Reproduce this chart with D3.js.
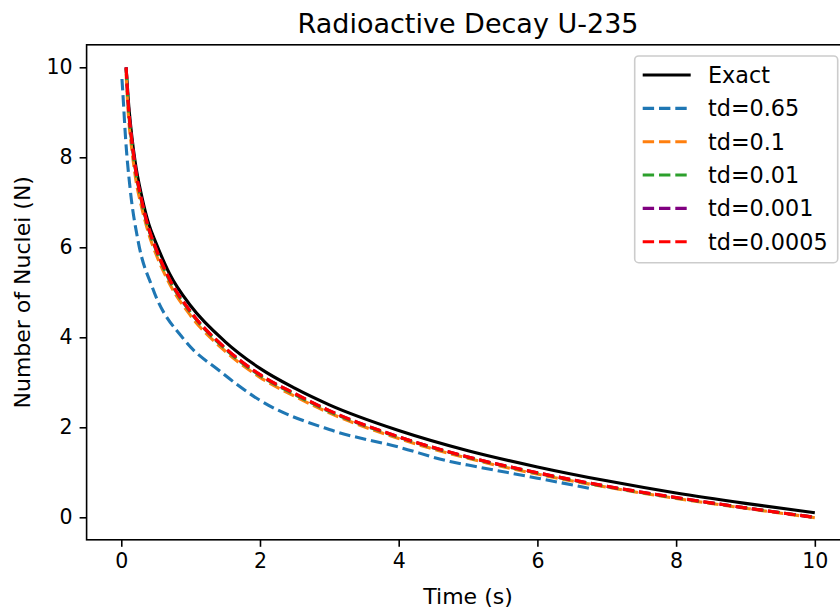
<!DOCTYPE html>
<html>
<head>
<meta charset="utf-8">
<script src="https://cdn.jsdelivr.net/npm/d3@7"></script>
<style>
  body { margin: 0; background: #fff; }
  svg { display: block; font-family: "DejaVu Sans", sans-serif; }
</style>
</head>
<body>
<svg id="chart" width="840" height="610"></svg>
<script>
// ---------- data ----------
const timeGrid = [0.07, 0.1, 0.15, 0.2, 0.3, 0.4, 0.5, 0.7, 1, 1.5, 2, 2.5, 3, 4, 5, 6, 7, 8, 9, 10];
const exactN   = [10.0, 9.3, 8.5, 7.9, 7.1, 6.5, 6.1, 5.4, 4.7, 3.9, 3.31, 2.87, 2.5, 1.93, 1.48, 1.12, 0.81, 0.54, 0.31, 0.10];
const td01N    = [9.85, 9.0, 8.2, 7.6, 6.85, 6.28, 5.85, 5.18, 4.48, 3.69, 3.11, 2.69, 2.32, 1.75, 1.31, 0.96, 0.67, 0.42, 0.20, -0.01];
const td001N   = [9.97, 9.15, 8.35, 7.76, 6.97, 6.37, 5.94, 5.25, 4.55, 3.74, 3.15, 2.73, 2.35, 1.78, 1.33, 0.98, 0.68, 0.43, 0.21, 0.0];
const td0001N  = [10.0, 9.2, 8.4, 7.8, 7.0, 6.4, 5.97, 5.28, 4.57, 3.76, 3.17, 2.75, 2.37, 1.79, 1.34, 0.99, 0.69, 0.44, 0.21, 0.0];
const td00005N = [10.0, 9.2, 8.4, 7.8, 7.0, 6.4, 5.97, 5.28, 4.57, 3.76, 3.17, 2.75, 2.37, 1.79, 1.34, 0.99, 0.69, 0.44, 0.21, 0.0];
const td065Time = [0.01, 0.02, 0.063, 0.13, 0.24, 0.45, 0.91, 1.42, 2.0, 3.0, 4.0, 4.74, 5.0, 6.0, 6.76];
const td065N    = [9.74, 9.5, 8.4, 7.27, 6.16, 5.1, 3.94, 3.25, 2.6, 1.95, 1.56, 1.24, 1.16, 0.87, 0.64];

const seriesNames  = ["Exact", "td=0.65", "td=0.1", "td=0.01", "td=0.001", "td=0.0005"];
const seriesColors = ["#000000", "#1f77b4", "#ff7f0e", "#2ca02c", "#800080", "#ff0000"];
const xTicks = [0, 2, 4, 6, 8, 10];
const yTicks = [0, 2, 4, 6, 8, 10];
const titleText = "Radioactive Decay U-235";
const xLabel = "Time (s)";
const yLabel = "Number of Nuclei (N)";

// ---------- layout ----------
const L = 86.6, R = 849.5, T = 44.8, B = 539.8;
const svg = d3.select("#chart");
const x = d3.scaleLinear().domain([-0.5, 10.5]).range([L, R]);
const y = d3.scaleLinear().domain([-0.5, 10.5]).range([B, T]);

svg.append("defs").append("clipPath").attr("id", "clip")
  .append("rect").attr("x", L).attr("y", T).attr("width", R - L).attr("height", B - T);

const mk = (ts, ns) => ts.map((t, i) => [t, ns[i]]);
const series = [
  { data: mk(timeGrid, exactN), dashed: false },
  { data: mk(td065Time, td065N), dashed: true },
  { data: mk(timeGrid, td01N), dashed: true },
  { data: mk(timeGrid, td001N), dashed: true },
  { data: mk(timeGrid, td0001N), dashed: true },
  { data: mk(timeGrid, td00005N), dashed: true }
];

const line = d3.line().x(d => x(d[0])).y(d => y(d[1])).curve(d3.curveMonotoneX);
const gLines = svg.append("g").attr("clip-path", "url(#clip)");
series.forEach((s, i) => {
  gLines.append("path")
    .datum(s.data)
    .attr("fill", "none")
    .attr("stroke", seriesColors[i])
    .attr("stroke-width", 3.1)
    .attr("stroke-dasharray", s.dashed ? "11.4,4.9" : null)
    .attr("d", line);
});

// ---------- axes ----------
const fontTick = 20.5;
const xAxis = d3.axisBottom(x).tickValues(xTicks).tickSize(7).tickPadding(7).tickSizeOuter(0);
const yAxis = d3.axisLeft(y).tickValues(yTicks).tickSize(7).tickPadding(7).tickSizeOuter(0);
const gx = svg.append("g").attr("transform", `translate(0,${B})`).call(xAxis);
const gy = svg.append("g").attr("transform", `translate(${L},0)`).call(yAxis);
[gx, gy].forEach(g => {
  g.select(".domain").remove();
  g.selectAll(".tick line").attr("stroke", "#000").attr("stroke-width", 1.6);
  g.selectAll(".tick text").attr("fill", "#000").style("font-size", fontTick + "px")
    .style("font-family", "DejaVu Sans");
});

// spines
svg.append("rect").attr("x", L).attr("y", T).attr("width", R - L).attr("height", B - T)
  .attr("fill", "none").attr("stroke", "#000").attr("stroke-width", 1.6);

// ---------- labels ----------
svg.append("text").attr("x", (L + R) / 2).attr("y", 33).attr("text-anchor", "middle")
  .style("font-size", "27px").text(titleText);
svg.append("text").attr("x", (L + R) / 2).attr("y", 604).attr("text-anchor", "middle")
  .style("font-size", "22px").text(xLabel);
svg.append("text").attr("transform", `translate(30,${(T + B) / 2}) rotate(-90)`)
  .attr("text-anchor", "middle").style("font-size", "22px").text(yLabel);

// ---------- legend ----------
const lg = svg.append("g");
lg.append("rect").attr("x", 634.7).attr("y", 56).attr("width", 203).attr("height", 206.7)
  .attr("rx", 4).attr("fill", "#fff").attr("fill-opacity", 0.8)
  .attr("stroke", "#cccccc").attr("stroke-width", 1.6);
seriesNames.forEach((name, i) => {
  const cy = 75 + i * 33.35;
  lg.append("line").attr("x1", 642.7).attr("x2", 690.7).attr("y1", cy).attr("y2", cy)
    .attr("stroke", seriesColors[i]).attr("stroke-width", 3.1)
    .attr("stroke-dasharray", i === 0 ? null : "11.4,4.9");
  lg.append("text").attr("x", 708).attr("y", cy + 8).style("font-size", "22.3px").text(name);
});
</script>
</body>
</html>
